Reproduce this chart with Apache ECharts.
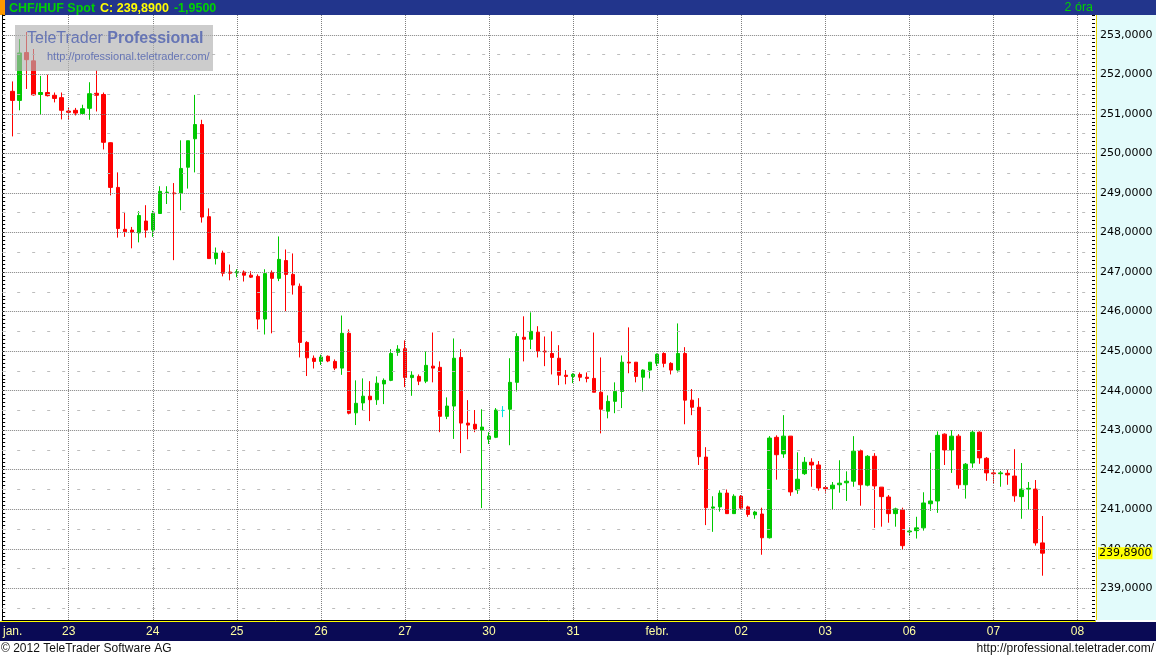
<!DOCTYPE html>
<html><head><meta charset="utf-8">
<script src="https://cdn.jsdelivr.net/npm/echarts/dist/echarts.min.js"></script>
<style>html,body{margin:0;padding:0;background:#fff}#c{width:1156px;height:659px}</style>
</head><body><div id="c"></div><script>
// ---- data ----
const dates = ['2012-01-20','2012-01-23','2012-01-24','2012-01-25','2012-01-26','2012-01-27','2012-01-30','2012-01-31','2012-02-01','2012-02-02','2012-02-03','2012-02-06','2012-02-07','2012-02-08'];
const dayLabels = ['jan.','23','24','25','26','27','30','31','febr.','02','03','06','07','08'];
const opens = [null,
251.57,251.34,252.55,252.34,251.49,251.54,251.47,251.41,251.07,251.09,251.01,251.14,251.52,251.49,250.27,249.14,248.08,248.06,247.99,248.29,
248.06,248.48,249.01,249.00,249.00,249.65,250.37,250.73,248.40,247.34,247.48,247.00,246.98,247.00,246.92,246.89,245.81,246.99,246.84,247.29,
246.94,246.64,245.22,244.82,244.74,244.87,244.74,244.57,245.45,243.44,243.69,243.86,243.77,244.17,244.26,244.97,245.06,244.33,244.36,244.24,
244.62,244.59,243.35,243.61,244.84,243.18,243.15,243.00,242.77,242.82,243.50,243.53,244.21,245.35,245.30,245.48,245.00,244.94,244.82,244.39,
244.36,244.41,244.34,244.31,243.96,243.48,243.73,243.98,244.72,244.72,244.34,244.52,244.69,244.94,244.69,244.52,244.94,243.76,243.58,242.32,
241.03,241.06,241.41,240.89,241.33,241.06,240.86,240.88,240.28,242.82,242.40,242.85,241.49,241.90,242.19,242.12,241.55,241.52,241.62,241.67,
241.71,242.48,241.61,242.34,241.56,241.31,240.89,240.98,240.43,240.46,240.53,241.14,241.21,242.90,242.50,242.85,241.62,242.17,242.95,242.29,
241.92,241.90,241.91,241.84,241.32,241.51,241.51,240.15];
const closes = [null,
251.34,252.54,252.37,251.48,251.54,251.46,251.39,251.09,251.04,251.02,251.13,251.51,251.47,250.28,249.14,248.10,248.02,248.01,248.43,248.06,
248.48,249.04,249.02,248.98,249.62,250.32,250.73,248.39,247.34,247.48,246.97,246.97,247.01,246.92,246.87,245.81,246.96,246.84,247.32,246.94,
246.67,245.22,244.83,244.74,244.85,244.75,244.57,245.45,243.43,243.68,243.86,243.77,244.19,244.26,244.94,245.05,244.33,244.39,244.24,244.64,
244.57,243.35,243.61,244.82,243.18,243.13,243.03,243.08,242.85,243.51,243.50,244.21,245.37,245.30,245.50,245.00,244.98,244.84,244.39,244.36,
244.41,244.34,244.31,243.96,243.53,243.73,243.98,244.72,244.70,244.36,244.52,244.72,244.92,244.69,244.52,244.94,243.76,243.58,242.33,241.04,
241.06,241.41,240.89,241.33,241.03,240.87,240.93,240.28,242.80,242.38,242.85,241.44,241.76,242.19,242.12,241.54,241.52,241.61,241.66,241.71,
242.47,241.62,242.34,241.59,241.32,240.89,241.01,240.08,240.45,240.53,241.16,241.21,242.87,242.50,242.85,241.62,242.14,242.95,242.30,241.92,
241.90,241.92,241.87,241.34,241.51,241.53,240.15,239.89];
const lows = [null,
250.43,251.09,251.63,251.46,250.98,251.44,251.29,250.86,250.87,250.96,250.99,250.85,251.06,250.10,248.94,247.87,247.89,247.60,247.75,247.87,
247.89,248.47,248.72,247.30,248.56,249.11,249.52,248.25,247.34,247.19,246.89,246.79,246.87,246.76,246.85,245.55,245.42,245.45,246.77,246.01,
246.43,244.84,244.37,244.56,244.65,244.72,244.52,244.40,243.40,243.13,243.51,243.23,243.64,243.66,244.24,244.88,244.09,243.87,244.14,244.19,
244.21,242.95,243.28,242.78,242.42,242.77,242.95,241.03,242.65,242.80,243.33,242.62,243.98,244.74,245.05,244.84,244.62,244.41,244.14,244.16,
244.19,244.24,244.21,243.96,242.92,243.30,243.43,243.56,244.44,244.21,243.98,244.31,244.62,244.59,244.41,244.46,243.15,243.38,242.12,240.60,
240.43,240.94,240.89,240.89,241.00,240.81,240.76,239.85,240.26,241.75,242.30,241.34,241.39,241.87,241.57,241.47,241.42,240.99,241.42,241.21,
241.57,241.09,241.58,240.53,240.56,240.66,240.56,239.98,240.33,240.26,240.46,240.96,240.91,242.12,241.92,241.52,241.27,242.05,242.15,241.72,
241.64,241.57,241.62,241.19,240.76,240.99,240.08,239.32];
const highs = [null,
251.82,252.89,253.07,252.64,251.96,251.99,251.54,251.54,251.17,251.15,251.23,251.80,252.10,251.54,250.28,249.52,248.52,248.14,248.54,248.69,
248.55,249.17,249.17,249.25,250.33,250.32,251.48,250.85,248.61,247.62,247.54,247.19,247.07,247.04,247.02,246.94,247.07,247.04,247.90,247.57,
247.47,246.71,245.25,244.89,244.91,244.89,244.79,245.90,245.55,244.26,244.31,244.24,244.36,244.31,245.05,245.15,245.27,244.49,244.41,244.99,
245.47,244.74,243.83,245.32,245.05,243.76,243.51,243.53,242.95,243.56,243.61,244.82,245.45,245.88,245.98,245.63,245.37,245.50,245.15,244.52,
244.44,244.46,244.46,245.47,244.84,243.88,244.21,244.89,245.60,244.72,244.54,244.72,244.94,244.97,244.72,245.70,245.10,244.04,243.81,242.57,
241.33,241.48,241.50,241.38,241.36,241.09,240.96,241.04,242.85,242.87,243.38,242.85,242.44,242.32,242.29,242.22,241.59,241.69,242.24,241.96,
242.85,242.51,242.37,242.42,241.56,241.36,241.04,241.04,240.52,240.81,241.43,242.43,242.97,242.92,243.00,242.90,242.17,243.00,242.97,242.32,
242.00,241.97,242.00,242.52,242.17,241.69,241.74,240.83];
const yMajorTicks = [239,240,241,242,243,244,245,246,247,248,249,250,251,252,253];
const yHalfTicks = [238.5,239.5,240.5,241.5,242.5,243.5,244.5,245.5,246.5,247.5,248.5,249.5,250.5,251.5,252.5];
const lastClose = 239.89;
const lastChange = -1.95;
const SLOT_COUNT = 156;      // 2-hour slots shown on the axis
const FIRST_SLOT_OFFSET = 3; // first slot is 06:00 of the first date

// ---- build categories ----
const pad = n => (n < 10 ? '0' : '') + n;
const categories = [];
for (let i = 0; i < SLOT_COUNT; i++) {
  const d = Math.floor((i + FIRST_SLOT_OFFSET) / 12);
  const h = ((i + FIRST_SLOT_OFFSET) % 12) * 2;
  categories.push(dates[d] + ' ' + pad(h) + ':00');
}
const candleData = categories.map((c, i) => {
  if (i >= opens.length || opens[i] == null) return ['-', '-', '-', '-'];
  const item = { value: [opens[i], closes[i], lows[i], highs[i]] };
  if (opens[i] === closes[i]) item.itemStyle = { color: '#00e0e0', borderColor: '#00e0e0', color0: '#00e0e0', borderColor0: '#00e0e0' };
  return item;
});
const fmt = v => v.toFixed(4).replace('.', ',');
const dayStarts = categories.filter(c => c.endsWith(' 00:00'));

const gridLines = [];
yMajorTicks.forEach(v => gridLines.push({ yAxis: v, lineStyle: { type: [1, 1], color: '#808080', width: 1 } }));
yHalfTicks.forEach(v => gridLines.push({ yAxis: v, lineStyle: { type: [3, 12], color: '#bdbdbd', width: 1 } }));
dayStarts.forEach(c => gridLines.push({ xAxis: c, lineStyle: { type: [1, 1], color: '#808080', width: 1 } }));

const SANS = '"Liberation Sans", Arial, sans-serif';
const chart = echarts.init(document.getElementById('c'), null, { renderer: 'canvas' });
chart.setOption({
  animation: false,
  backgroundColor: '#ffffff',
  title: [
    { text: '{g|CHF/HUF Spot} {y|C: ' + fmt(lastClose) + '} {g|' + fmt(lastChange) + '}', left: 9, top: 0, padding: 0,
      textStyle: { rich: {
        g: { color: '#00d200', fontFamily: SANS, fontSize: 12.5, lineHeight: 15 },
        y: { color: '#ffff00', fontFamily: SANS, fontSize: 12.5, lineHeight: 15 } } } },
    { text: '2 óra', right: 63, top: 0, padding: 0, textStyle: { color: '#00d200', fontFamily: SANS, fontSize: 12.5, fontWeight: 'normal', lineHeight: 15 } },
    { text: '© 2012 TeleTrader Software AG', left: 1, top: 642, padding: 0, textStyle: { color: '#111', fontFamily: SANS, fontSize: 12, fontWeight: 'normal', lineHeight: 14 } },
    { text: 'http://professional.teletrader.com/', right: 2, top: 642, padding: 0, textStyle: { color: '#111', fontFamily: SANS, fontSize: 12, fontWeight: 'normal', lineHeight: 14 } }
  ],
  grid: { left: 1, top: 15, width: 1094, height: 605, show: false },
  xAxis: {
    type: 'category', data: categories, boundaryGap: true,
    axisLine: { show: true, lineStyle: { color: '#000', width: 1 } },
    axisTick: { show: false },
    splitLine: { show: false },
    axisLabel: {
      color: '#ffffa0', fontFamily: SANS, fontSize: 12, margin: 6,
      interval: (idx, val) => idx === 1 || val.endsWith(' 00:00'),
      formatter: (val) => dayLabels[dates.indexOf(val.slice(0, 10))]
    }
  },
  yAxis: [
    { type: 'value', position: 'right', min: 238.2, max: 253.5, interval: 0.1, scale: true,
      axisLine: { show: false },
      axisTick: { show: true, inside: true, length: 3, lineStyle: { color: '#000' } },
      splitLine: { show: false },
      axisLabel: { color: '#000', fontFamily: '"DejaVu Sans", sans-serif', fontSize: 11, margin: 5,
        formatter: v => Math.abs(v - Math.round(v)) < 1e-6 ? fmt(Math.round(v)) : '' } },
    { type: 'value', position: 'left', min: 238.2, max: 253.5, interval: 0.1, scale: true,
      axisLine: { show: true, lineStyle: { color: '#000' } },
      axisTick: { show: true, inside: true, length: 3, lineStyle: { color: '#000' } },
      splitLine: { show: false }, axisLabel: { show: false } }
  ],
  series: [
    { type: 'line', data: [], yAxisIndex: 0, z: 1, silent: true,
      markLine: { silent: true, symbol: 'none', label: { show: false }, animation: false, data: gridLines } },
    { type: 'candlestick', yAxisIndex: 0, z: 3, barWidth: 4, data: candleData,
      itemStyle: { color: '#00c800', color0: '#ff0000', borderColor: '#00c800', borderColor0: '#ff0000', borderWidth: 1 } },
    { type: 'line', data: [], yAxisIndex: 0, z: 10, silent: true, clip: false,
      markLine: { silent: true, symbol: 'none', animation: false,
        data: [{ yAxis: lastClose, lineStyle: { color: 'rgba(0,0,0,0)', width: 1 },
          label: { show: true, position: 'end', distance: 3, formatter: () => fmt(lastClose),
            backgroundColor: '#ffff00', color: '#000', padding: [1, 1, 0, 1],
            fontFamily: '"DejaVu Sans", sans-serif', fontSize: 11 } }] } }
  ],
  graphic: [
    { type: 'rect', z: -5, shape: { x: 0, y: 0, width: 1156, height: 15 }, style: { fill: '#22358c' } },
    { type: 'rect', z: -4, shape: { x: 0, y: 0, width: 5, height: 15 }, style: { fill: '#ff9900' } },
    { type: 'rect', z: -5, shape: { x: 1096, y: 15, width: 60, height: 605 }, style: { fill: '#e2fbfb' } },
    { type: 'line', z: -4, shape: { x1: 1096.5, y1: 15, x2: 1096.5, y2: 620 }, style: { stroke: '#e8d200', lineWidth: 1 } },
    { type: 'rect', z: -5, shape: { x: 0, y: 622, width: 1156, height: 19 }, style: { fill: '#0a0a55' } },
    { type: 'line', z: -4, shape: { x1: 0, y1: 621.5, x2: 1096, y2: 621.5 }, style: { stroke: '#ffff00', lineWidth: 1 } },
    { type: 'rect', z: 100, shape: { x: 15, y: 25, width: 198, height: 46 }, style: { fill: 'rgba(176,176,176,0.65)' } },
    { type: 'text', z: 101, x: 27, y: 31, style: { text: '{n|TeleTrader }{b|Professional}', fill: '#6675b5',
        rich: { n: { fontFamily: SANS, fontSize: 16, fill: '#6675b5', color: '#6675b5' },
                b: { fontFamily: SANS, fontSize: 16, fontWeight: 'bold', fill: '#6675b5', color: '#6675b5' } } } },
    { type: 'text', z: 101, x: 47, y: 51, style: { text: 'http://professional.teletrader.com/', fill: '#6675b5', font: '11px "Liberation Sans", Arial, sans-serif' } }
  ]
});
</script></body></html>
